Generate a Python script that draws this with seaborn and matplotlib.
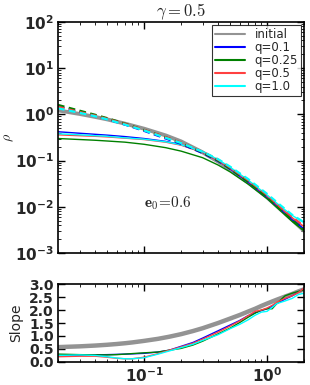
import numpy as np
import pandas as pd
import seaborn as sns
import matplotlib
matplotlib.use('Agg')
import matplotlib.pyplot as plt
from matplotlib.ticker import LogLocator, MultipleLocator

# radii for density profiles
r = [0.02, 0.03, 0.04, 0.05, 0.07, 0.1, 0.15, 0.2, 0.3, 0.4, 0.5, 0.7, 1.0, 1.3, 1.6, 2.0]

rho_init = [1.22, 1.02, 0.88, 0.78, 0.63, 0.49, 0.35, 0.26, 0.15, 0.095, 0.064, 0.034, 0.016, 0.0085, 0.0052, 0.0030]

# solid: final profiles
rho_q01 = [0.42, 0.39, 0.37, 0.355, 0.33, 0.30, 0.26, 0.22, 0.15, 0.10, 0.066, 0.034, 0.016, 0.0085, 0.0052, 0.0033]
rho_q025 = [0.30, 0.285, 0.275, 0.265, 0.25, 0.225, 0.19, 0.16, 0.115, 0.08, 0.057, 0.031, 0.015, 0.0080, 0.0048, 0.0030]
rho_q05 = [0.36, 0.345, 0.335, 0.325, 0.305, 0.285, 0.25, 0.215, 0.15, 0.10, 0.068, 0.036, 0.017, 0.0093, 0.0058, 0.0037]
rho_q10 = [0.38, 0.36, 0.345, 0.335, 0.31, 0.29, 0.255, 0.22, 0.155, 0.105, 0.072, 0.038, 0.018, 0.010, 0.0065, 0.0045]

# dashed: second set of profiles
rho_d01 = [1.5, 1.12, 0.93, 0.79, 0.60, 0.44, 0.30, 0.23, 0.145, 0.098, 0.066, 0.035, 0.016, 0.0086, 0.0053, 0.0033]
rho_d025 = [1.6, 1.2, 0.98, 0.83, 0.63, 0.46, 0.32, 0.24, 0.15, 0.10, 0.067, 0.035, 0.016, 0.0084, 0.0051, 0.0031]
rho_d05 = [1.45, 1.12, 0.94, 0.80, 0.62, 0.46, 0.32, 0.245, 0.155, 0.105, 0.071, 0.038, 0.018, 0.0095, 0.006, 0.0038]
rho_d10 = [1.35, 1.08, 0.91, 0.78, 0.60, 0.45, 0.31, 0.24, 0.155, 0.107, 0.074, 0.040, 0.019, 0.0105, 0.0067, 0.0046]

# radii for slopes
rs = [0.02, 0.03, 0.04, 0.05, 0.06, 0.07, 0.08, 0.1, 0.13, 0.16, 0.2, 0.25, 0.3, 0.4, 0.5,
      0.6, 0.7, 0.8, 0.9, 1.0, 1.1, 1.2, 1.4, 1.6, 1.8, 2.0]
slope_init = [0.57, 0.60, 0.63, 0.66, 0.69, 0.72, 0.75, 0.81, 0.89, 0.97, 1.07, 1.19, 1.30, 1.50, 1.67,
              1.81, 1.94, 2.05, 2.16, 2.25, 2.33, 2.40, 2.52, 2.62, 2.72, 2.80]
slope_q01 = [0.22, 0.25, 0.27, 0.28, 0.29, 0.30, 0.31, 0.33, 0.38, 0.45, 0.60, 0.75, 0.92, 1.20, 1.42,
             1.60, 1.78, 1.90, 1.98, 2.05, 2.15, 2.25, 2.42, 2.55, 2.70, 2.82]
slope_q025 = [0.30, 0.28, 0.27, 0.27, 0.28, 0.30, 0.32, 0.35, 0.38, 0.45, 0.52, 0.65, 0.80, 1.08, 1.30,
              1.52, 1.72, 1.88, 2.00, 2.05, 2.05, 2.25, 2.55, 2.65, 2.72, 2.78]
slope_q05 = [0.20, 0.22, 0.22, 0.18, 0.14, 0.12, 0.12, 0.18, 0.32, 0.45, 0.58, 0.72, 0.88, 1.15, 1.38,
             1.58, 1.78, 1.95, 2.00, 2.08, 2.18, 2.30, 2.45, 2.55, 2.68, 2.85]
slope_q10 = [0.25, 0.27, 0.25, 0.20, 0.15, 0.12, 0.12, 0.16, 0.30, 0.42, 0.55, 0.68, 0.83, 1.05, 1.28,
             1.45, 1.62, 1.80, 1.92, 1.95, 2.10, 2.25, 2.35, 2.45, 2.60, 2.65]

labels = ['q=0.1', 'q=0.25', 'q=0.5', 'q=1.0']
colors = ['#0000ff', '#008000', '#ff4040', '#00ffff']

sns.set_style('white', {'xtick.direction': 'in', 'ytick.direction': 'in',
                        'xtick.top': True, 'ytick.right': True,
                        'xtick.bottom': True, 'ytick.left': True,
                        'axes.edgecolor': 'black'})
plt.rcParams['font.family'] = ['DejaVu Sans']
plt.rcParams['mathtext.fontset'] = 'cm'

fig = plt.figure(figsize=(3.10, 3.85), dpi=100)
ax = fig.add_axes([0.187, 0.343, 0.794, 0.600])
ax2 = fig.add_axes([0.187, 0.060, 0.794, 0.202])

solid = [rho_q01, rho_q025, rho_q05, rho_q10]
dashed = [rho_d01, rho_d025, rho_d05, rho_d10]
slopes = [slope_q01, slope_q025, slope_q05, slope_q10]

sns.lineplot(x=r, y=rho_init, ax=ax, color='gray', lw=2.8, alpha=0.85, label='initial')
for yv, c, lab in zip(solid, colors, labels):
    sns.lineplot(x=r, y=yv, ax=ax, color=c, lw=1.0, label=lab)
for yv, c in zip(dashed, colors):
    sns.lineplot(x=r, y=yv, ax=ax, color=c, lw=1.6, dashes=False, linestyle=(0, (3, 2)))

ax.set_xscale('log')
ax.set_yscale('log')
ax.set_xlim(0.02, 2.0)
ax.set_ylim(1e-3, 1e2)
ax.tick_params(axis='x', which='both', labelbottom=False)
yt = [1e-3, 1e-2, 1e-1, 1e0, 1e1, 1e2]
ax.set_yticks(yt)
ax.set_yticklabels([r'$\mathbf{10^{%d}}$' % int(np.log10(v)) for v in yt],
                   fontsize=11, math_fontfamily='dejavusans')
ax.yaxis.set_minor_locator(LogLocator(base=10, subs=np.arange(2, 10) * 1.0, numticks=20))
ax.xaxis.set_minor_locator(LogLocator(base=10, subs=np.arange(2, 10) * 1.0, numticks=20))
ax.set_ylabel(r'$\rho$', fontsize=10)
ax.yaxis.set_label_coords(-0.17, 0.5)
ax.set_title(r'$\gamma=0.5$', fontsize=12, pad=2)
ax.text(0.35, 0.215, r'$\mathbf{e}_0\!=\!0.6$', transform=ax.transAxes, fontsize=11, va='center')

handles, labs = ax.get_legend_handles_labels()
leg = ax.legend(handles[:5], labs[:5], loc='upper right', fontsize=8.5, frameon=True,
                fancybox=False, handlelength=2.6, labelspacing=0.0, borderpad=0.25,
                borderaxespad=0.25, handletextpad=0.8)
leg.get_frame().set_edgecolor('black')
leg.get_frame().set_linewidth(0.8)
for ln in leg.get_lines():
    ln.set_linewidth(1.5)

sns.lineplot(x=rs, y=slope_init, ax=ax2, color='gray', lw=3.2, alpha=0.85)
for yv, c in zip(slopes, colors):
    sns.lineplot(x=rs, y=yv, ax=ax2, color=c, lw=1.0)
ax2.set_xscale('log')
ax2.set_xlim(0.02, 2.0)
ax2.set_ylim(0, 3)
st = [0.0, 0.5, 1.0, 1.5, 2.0, 2.5, 3.0]
ax2.set_yticks(st)
ax2.set_yticklabels(['%.1f' % v for v in st], fontsize=10, fontweight='bold')
ax2.set_xticks([0.1, 1.0])
ax2.set_xticklabels([r'$\mathbf{10^{-1}}$', r'$\mathbf{10^{0}}$'], fontsize=11,
                    math_fontfamily='dejavusans')
ax2.xaxis.set_minor_locator(LogLocator(base=10, subs=np.arange(2, 10) * 1.0, numticks=20))
ax2.yaxis.set_minor_locator(MultipleLocator(0.1))
ax2.set_ylabel('Slope', fontsize=10)
ax2.yaxis.set_label_coords(-0.14, 0.5)

for a in (ax, ax2):
    a.tick_params(which='major', length=5, width=1, pad=3, color='black')
    a.tick_params(which='minor', length=2.5, width=0.6, color='black')
    for s in a.spines.values():
        s.set_linewidth(1.2)
ax2.tick_params(axis='y', which='minor', length=0)

fig.savefig('out.png', dpi=100)
